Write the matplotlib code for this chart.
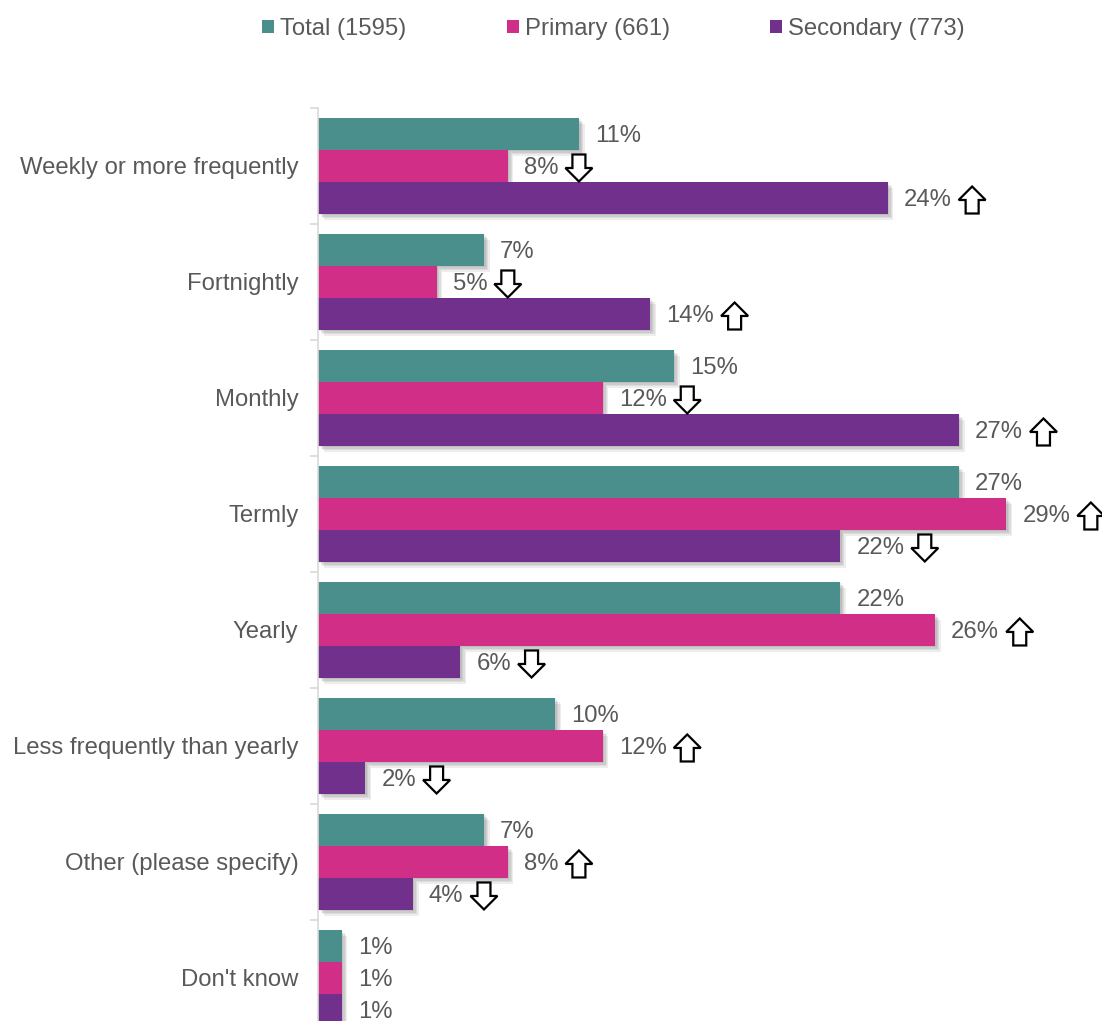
import numpy as np
import matplotlib
matplotlib.use("Agg")
import matplotlib.pyplot as plt
import matplotlib.patheffects as pe
import matplotlib.transforms as mtransforms
from matplotlib.patches import Patch, Polygon

plt.rcParams['font.family'] = ['Liberation Sans', 'DejaVu Sans']

# 응답 데이터 (%)
categories = ['Weekly or more frequently', 'Fortnightly', 'Monthly', 'Termly',
              'Yearly', 'Less frequently than yearly', 'Other (please specify)',
              "Don't know"]
series_names = ['Total (1595)', 'Primary (661)', 'Secondary (773)']
total = [11, 7, 15, 27, 22, 10, 7, 1]
primary = [8, 5, 12, 29, 26, 12, 8, 1]
secondary = [24, 14, 27, 22, 6, 2, 4, 1]
# 유의미한 차이 표시: 'up', 'down', ''
primary_sig = ['down', 'down', 'down', 'up', 'up', 'up', 'up', '']
secondary_sig = ['up', 'up', 'up', 'down', 'down', 'down', 'down', '']

colors = ['#4a8f8b', '#d12f87', '#70308c']
text_color = '#595959'
fs = 17.2

W, H = 1102, 1021
fig = plt.figure(figsize=(W / 100, H / 100), dpi=100)
ax = fig.add_axes([318 / W, 0, 1 - 318 / W, 1 - 108 / H])

y = np.arange(len(categories))
bh = 0.2759
shadow = [pe.SimplePatchShadow(offset=(o, -o), shadow_rgbFace='k', alpha=0.07)
          for o in (1.0, 2.0, 3.0, 4.0)] + [pe.Normal()]

all_vals = [total, primary, secondary]
all_sig = [[''] * len(categories), primary_sig, secondary_sig]
labels = []
for k, (vals, sig) in enumerate(zip(all_vals, all_sig)):
    ypos = y + (k - 1) * bh
    bars = ax.barh(ypos, vals, height=bh, color=colors[k], zorder=2)
    for b in bars:
        b.set_path_effects(shadow)
    for v, yy, s in zip(vals, ypos, sig):
        t = ax.annotate(f'{v}%', (v, yy), xytext=(16, -2), textcoords='offset pixels',
                        va='center', ha='left', fontsize=fs, color=text_color)
        labels.append((t, s))

for side in ['top', 'right', 'bottom']:
    ax.spines[side].set_visible(False)
ax.spines['left'].set_color('#d9d9d9')
ax.spines['left'].set_linewidth(1.2)
ax.set_xticks([])
ax.set_yticks(y)
ax.set_yticklabels(categories, fontsize=fs, color=text_color)
ax.tick_params(axis='y', which='major', length=0, pad=14)
ax.set_yticks(np.arange(-0.5, len(categories), 1), minor=True)
ax.tick_params(axis='y', which='minor', length=6, color='#d9d9d9', width=1.2)

# 마지막 그룹은 아래쪽이 잘리도록 범위 고정 (틱 설정 뒤에)
ax.set_xlim(0, (W - 318) / 23.74)
ax.set_ylim(7.371, -0.5)

handles = [Patch(facecolor=c, edgecolor='none') for c in colors]
fig.legend(handles, series_names, loc='center', bbox_to_anchor=(613.5 / W, 1 - 29 / H),
           ncol=3, frameon=False, fontsize=fs, labelcolor=text_color,
           handlelength=0.5, handleheight=0.5, handletextpad=0.25, columnspacing=4.2)

# 라벨 오른쪽에 속이 빈 화살표 그리기
fig.canvas.draw()
renderer = fig.canvas.get_renderer()
up_shape = np.array([[0, 13.5], [13.5, 0], [6.5, 0], [6.5, -13.5], [-6.5, -13.5],
                     [-6.5, 0], [-13.5, 0]], float)
for t, s in labels:
    if not s:
        continue
    bb = t.get_window_extent(renderer)
    cx = bb.x1 + 7 + 13.5
    cy = (bb.y0 + bb.y1) / 2
    shape = up_shape.copy()
    if s == 'down':
        shape[:, 1] *= -1
    shape[:, 0] += cx
    shape[:, 1] += cy
    fig.patches.append(Polygon(shape, closed=True, facecolor='white', edgecolor='black',
                               linewidth=1.6, joinstyle='miter',
                               transform=mtransforms.IdentityTransform(), figure=fig))

fig.savefig('out.png', dpi=100)
